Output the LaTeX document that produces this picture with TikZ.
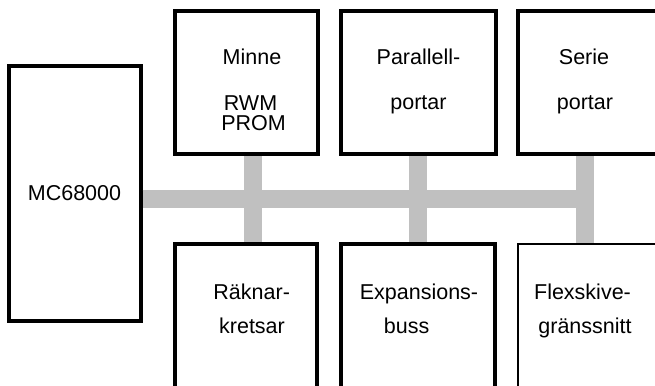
\documentclass[tikz,border=0pt]{standalone}
\usepackage{fontspec}
\setmainfont{Liberation Sans}
\definecolor{busgray}{RGB}{192,192,192}
\begin{document}
\begin{tikzpicture}[x=1pt,y=-1pt,
  box/.style={draw,line width=4pt,rectangle,inner sep=0pt},
  thinbox/.style={box,line width=1.6pt},
  lbl/.style={font=\fontsize{21.5}{24}\selectfont,inner sep=0pt,anchor=base},
  bus/.style={draw=busgray,line width=18pt}]
\useasboundingbox (0,0) rectangle (655,385);
\clip (0,0) rectangle (655,385);
% boxes
\node[box,minimum width=131.8pt,minimum height=254.5pt] (mc) at (74.6,193.25) {};
\node[box,minimum width=143.3pt,minimum height=142.7pt] (minne) at (246.35,82.65) {};
\node[box,minimum width=155pt,minimum height=142.7pt] (par) at (418,82.65) {};
\node[box,minimum width=162pt,minimum height=142.7pt] (serie) at (599,82.65) {};
\node[box,minimum width=142.3pt,minimum height=176.3pt] (rak) at (245.85,331.85) {};
\node[box,minimum width=154pt,minimum height=176.3pt] (exp) at (418,331.85) {};
\node[thinbox,minimum width=162pt,minimum height=176.3pt] (flex) at (599,331.85) {};
% labels
\node[lbl] (tmc) at (74.5,200.7) {MC68000};
\node[lbl] (tminne) at (252,65) {Minne};
\node[lbl] (trwm) at (250.5,110.7) {RWM};
\node[lbl] (tprom) at (253.5,130.7) {PROM};
\node[lbl] (tpar1) at (418.5,65) {Parallell-};
\node[lbl] (tpar2) at (418.5,110) {portar};
\node[lbl] (tser1) at (584,65) {Serie};
\node[lbl] (tser2) at (585,110) {portar};
\node[lbl] (trak1) at (251.7,299.3) {Räknar-};
\node[lbl] (trak2) at (252,333) {kretsar};
\node[lbl] (texp1) at (419,299.3) {Expansions-};
\node[lbl] (texp2) at (406.7,333) {buss};
\node[lbl] (tflex1) at (582.5,299.3) {Flexskive-};
\node[lbl] (tflex2) at (585,333) {gränssnitt};
% bus
\coordinate (busy) at (0,199);
\coordinate (busend) at (594,199);
\coordinate (stubA) at (252.5,0);
\coordinate (stubC) at (585,0);
\draw[bus] (mc.east |- busy) -- (busend);
\draw[bus] (minne.south -| stubA) -- (rak.north -| stubA);
\draw[bus] (par.south) -- (exp.north);
\draw[bus] (serie.south -| stubC) -- (flex.north -| stubC);
\end{tikzpicture}
\end{document}
